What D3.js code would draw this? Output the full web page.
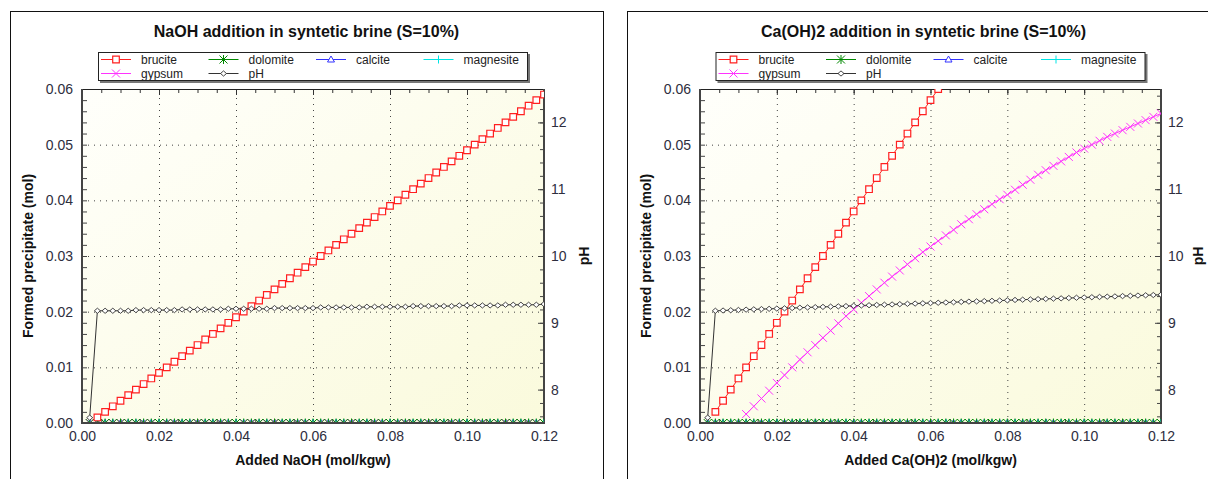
<!DOCTYPE html>
<html><head><meta charset="utf-8">
<script src="https://cdn.jsdelivr.net/npm/d3@7"></script>
<style>
body{margin:0;background:#fff;}
svg{display:block;font-family:"Liberation Sans",Arial,sans-serif;}
</style>
</head><body>
<svg id="c" width="1208" height="479"></svg>
<script>
// ---------------- data ----------------
const xAdded = [
 0.002,0.004,0.006,0.008,0.010,0.012,0.014,0.016,0.018,0.020,
 0.022,0.024,0.026,0.028,0.030,0.032,0.034,0.036,0.038,0.040,
 0.042,0.044,0.046,0.048,0.050,0.052,0.054,0.056,0.058,0.060,
 0.062,0.064,0.066,0.068,0.070,0.072,0.074,0.076,0.078,0.080,
 0.082,0.084,0.086,0.088,0.090,0.092,0.094,0.096,0.098,0.100,
 0.102,0.104,0.106,0.108,0.110,0.112,0.114,0.116,0.118,0.120];

const naohBrucite = [
 null,0.001,0.002,0.003,0.004,0.005,0.006,0.007,0.008,0.009,
 0.010,0.011,0.012,0.013,0.014,0.015,0.016,0.017,0.018,0.019,
 0.020,0.021,0.022,0.023,0.024,0.025,0.026,0.027,0.028,0.029,
 0.030,0.031,0.032,0.033,0.034,0.035,0.036,0.037,0.038,0.039,
 0.040,0.041,0.042,0.043,0.044,0.045,0.046,0.047,0.048,0.049,
 0.050,0.051,0.052,0.053,0.054,0.055,0.056,0.057,0.058,0.059];

const naohGypsum = [
 0,0,0,0,0,0,0,0,0,0, 0,0,0,0,0,0,0,0,0,0, 0,0,0,0,0,0,0,0,0,0,
 0,0,0,0,0,0,0,0,0,0, 0,0,0,0,0,0,0,0,0,0, 0,0,0,0,0,0,0,0,0,0];

const naohPH = [
 7.58,9.18,9.18,9.18,9.18,9.18,9.19,9.19,9.19,9.19,
 9.19,9.19,9.20,9.20,9.20,9.20,9.20,9.20,9.21,9.21,
 9.21,9.21,9.21,9.21,9.22,9.22,9.22,9.22,9.22,9.22,
 9.23,9.23,9.23,9.23,9.23,9.23,9.24,9.24,9.24,9.24,
 9.24,9.24,9.25,9.25,9.25,9.25,9.25,9.25,9.26,9.26,
 9.26,9.26,9.26,9.26,9.27,9.27,9.27,9.27,9.27,9.28];

const caBrucite = [
 null,0.002,0.004,0.006,0.008,0.010,0.012,0.014,0.016,0.018,
 0.020,0.022,0.024,0.026,0.028,0.030,0.032,0.034,0.036,0.038,
 0.040,0.042,0.044,0.046,0.048,0.050,0.052,0.054,0.056,0.058,
 0.060,0.062,null,null,null,null,null,null,null,null,
 null,null,null,null,null,null,null,null,null,null,
 null,null,null,null,null,null,null,null,null,null];

const caGypsum = [
 null,null,null,null,null,0.0016,0.0030,0.0044,0.0058,0.0072,
 0.0086,0.0100,0.0114,0.0127,0.0140,0.0153,0.0166,0.0179,0.0192,0.0204,
 0.0216,0.0228,0.0240,0.0252,0.0263,0.0274,0.0285,0.0296,0.0307,0.0317,
 0.0327,0.0337,0.0347,0.0357,0.0366,0.0375,0.0384,0.0393,0.0402,0.0410,
 0.0419,0.0428,0.0437,0.0446,0.0454,0.0462,0.0470,0.0478,0.0486,0.0493,
 0.0500,0.0507,0.0514,0.0520,0.0526,0.0532,0.0538,0.0544,0.0550,0.0556];

const caPH = [
 7.58,9.180,9.184,9.188,9.192,9.197,9.201,9.205,9.209,9.213,
 9.217,9.221,9.226,9.230,9.234,9.238,9.242,9.246,9.250,9.255,
 9.259,9.263,9.267,9.271,9.275,9.279,9.284,9.288,9.292,9.296,
 9.300,9.304,9.308,9.313,9.317,9.321,9.325,9.329,9.333,9.337,
 9.342,9.346,9.350,9.354,9.358,9.362,9.366,9.371,9.375,9.379,
 9.383,9.387,9.391,9.395,9.400,9.404,9.408,9.412,9.416,9.420];

const dolomiteMol = [
 0,0,0,0,0,0,0,0,0,0, 0,0,0,0,0,0,0,0,0,0, 0,0,0,0,0,0,0,0,0,0,
 0,0,0,0,0,0,0,0,0,0, 0,0,0,0,0,0,0,0,0,0, 0,0,0,0,0,0,0,0,0,0];
const calciteMol = [
 0,0,0,0,0,0,0,0,0,0, 0,0,0,0,0,0,0,0,0,0, 0,0,0,0,0,0,0,0,0,0,
 0,0,0,0,0,0,0,0,0,0, 0,0,0,0,0,0,0,0,0,0, 0,0,0,0,0,0,0,0,0,0];
const magnesiteMol = [
 0,0,0,0,0,0,0,0,0,0, 0,0,0,0,0,0,0,0,0,0, 0,0,0,0,0,0,0,0,0,0,
 0,0,0,0,0,0,0,0,0,0, 0,0,0,0,0,0,0,0,0,0, 0,0,0,0,0,0,0,0,0,0];

const xTickValues = [0,0.02,0.04,0.06,0.08,0.10,0.12];
const yTickValues = [0,0.01,0.02,0.03,0.04,0.05,0.06];
const phTickValues = [8,9,10,11,12];
const legendNames = ["brucite","dolomite","calcite","magnesite","gypsum","pH"];

// ---------------- styles ----------------
const seriesStyle = {
  brucite:  {color:"#ff2020", marker:"M-3.3,-3.3h6.6v6.6h-6.6z", fill:"#fff", sw:1.2},
  gypsum:   {color:"#ff33ff", marker:"M-4,-4L4,4M-4,4L4,-4", fill:"none", sw:1},
  dolomite: {color:"#008800", marker:"M-4,-4L4,4M-4,4L4,-4M0,-4.5V4.5", fill:"none", sw:1},
  calcite:  {color:"#3333ff", marker:"M0,-3.5L3.5,2.5H-3.5Z", fill:"#fff", sw:1},
  magnesite:{color:"#00e5e5", marker:"M-4,0H4M0,-4V4", fill:"none", sw:1},
  pH:       {color:"#333333", marker:"M0,-2.6L3,0L0,2.6L-3,0Z", fill:"#fff", sw:0.9}
};

const charts = [
  {title:"NaOH addition in syntetic brine (S=10%)", xTitle:"Added NaOH (mol/kgw)",
   frameX:10, x0:82, x1:544, phTitleOff:45, brucite:naohBrucite, gypsum:naohGypsum, pH:naohPH},
  {title:"Ca(OH)2 addition in syntetic brine (S=10%)", xTitle:"Added Ca(OH)2 (mol/kgw)",
   frameX:627, x0:700, x1:1161, phTitleOff:42, brucite:caBrucite, gypsum:caGypsum, pH:caPH}
];

const svg = d3.select("#c");
const defs = svg.append("defs");
const grad = defs.append("linearGradient").attr("id","bg").attr("x1",0).attr("y1",0).attr("x2",1).attr("y2",1);
grad.append("stop").attr("offset","0%").attr("stop-color","#fffffb");
grad.append("stop").attr("offset","100%").attr("stop-color","#fafadc");

const Y0 = 89, Y1 = 423;
const labelColor = "#2e2e3e";

charts.forEach((c, ci) => {
  const g = svg.append("g");
  g.append("rect").attr("x", c.frameX+0.5).attr("y", 11.5).attr("width", 593).attr("height", 480)
    .attr("fill","none").attr("stroke","#111").attr("stroke-width",1);

  const x = d3.scaleLinear().domain([0,0.12]).range([c.x0, c.x1]);
  const y = d3.scaleLinear().domain([0,0.06]).range([Y1, Y0]);
  const yp = d3.scaleLinear().domain([7.5,12.5]).range([Y1, Y0]);
  const pw = c.x1 - c.x0, ph = Y1 - Y0;

  g.append("rect").attr("x", c.x0).attr("y", Y0).attr("width", pw).attr("height", ph).attr("fill","url(#bg)");

  const gridStyle = s => s.selectAll("line").attr("stroke","#444").attr("stroke-dasharray","1,5");
  g.append("g").attr("transform",`translate(${c.x0},0)`)
    .call(d3.axisLeft(y).tickValues([0.01,0.02,0.03,0.04,0.05]).tickSize(-pw).tickFormat(""))
    .call(s => s.select(".domain").remove()).call(gridStyle);
  g.append("g").attr("transform",`translate(0,${Y1})`)
    .call(d3.axisBottom(x).tickValues([0.02,0.04,0.06,0.08,0.10]).tickSize(-ph).tickFormat(""))
    .call(s => s.select(".domain").remove()).call(gridStyle);

  const minorX = d3.range(0, 0.1201, 0.005);
  const minorY = d3.range(0, 0.0601, 0.002);
  const minorP = d3.range(7.6, 12.41, 0.2);

  g.append("g").attr("transform",`translate(${c.x0},0)`)
    .call(d3.axisRight(y).tickValues(minorY).tickSize(5).tickFormat(""))
    .call(s => { s.select(".domain").remove(); s.selectAll("line").attr("stroke","#444"); });
  g.append("g").attr("transform",`translate(0,${Y0})`)
    .call(d3.axisBottom(x).tickValues(minorX).tickSize(4).tickFormat(""))
    .call(s => { s.select(".domain").remove(); s.selectAll("line").attr("stroke","#333"); });
  g.append("g").attr("transform",`translate(0,${Y0})`)
    .call(d3.axisBottom(x).tickValues(xTickValues).tickSize(6).tickFormat(""))
    .call(s => { s.select(".domain").remove(); s.selectAll("line").attr("stroke","#333"); });
  g.append("g").attr("transform",`translate(0,${Y1})`)
    .call(d3.axisTop(x).tickValues(minorX).tickSize(4).tickFormat(""))
    .call(s => { s.select(".domain").remove(); s.selectAll("line").attr("stroke","#444"); });
  g.append("g").attr("transform",`translate(${c.x1},0)`)
    .call(d3.axisLeft(yp).tickValues(minorP).tickSize(4).tickFormat(""))
    .call(s => { s.select(".domain").remove(); s.selectAll("line").attr("stroke","#444"); });
  g.append("g").attr("transform",`translate(${c.x1},0)`)
    .call(d3.axisLeft(yp).tickValues(phTickValues).tickSize(6).tickFormat(""))
    .call(s => { s.select(".domain").remove(); s.selectAll("line").attr("stroke","#444"); });

  g.append("g").attr("transform",`translate(${c.x0},0)`)
    .call(d3.axisLeft(y).tickValues(yTickValues).tickSize(0).tickPadding(9).tickFormat(d3.format(".2f")))
    .call(s => { s.select(".domain").remove(); s.selectAll("text").attr("font-size",14).attr("fill",labelColor).attr("font-family",null); });
  g.append("g").attr("transform",`translate(0,${Y1})`)
    .call(d3.axisBottom(x).tickValues(xTickValues).tickSize(0).tickPadding(8).tickFormat(d3.format(".2f")))
    .call(s => { s.select(".domain").remove(); s.selectAll("text").attr("font-size",14).attr("fill",labelColor).attr("font-family",null); });
  g.append("g").attr("transform",`translate(${c.x1},0)`)
    .call(d3.axisRight(yp).tickValues(phTickValues).tickSize(0).tickPadding(7).tickFormat(d3.format("d")))
    .call(s => { s.select(".domain").remove(); s.selectAll("text").attr("font-size",14).attr("fill",labelColor).attr("font-family",null); });

  g.append("line").attr("x1",c.x0).attr("x2",c.x1).attr("y1",Y0+0.5).attr("y2",Y0+0.5).attr("stroke","#222").attr("stroke-width",1);
  g.append("line").attr("x1",c.x0).attr("x2",c.x0).attr("y1",Y0).attr("y2",Y1+1).attr("stroke","#444").attr("stroke-width",2);
  g.append("line").attr("x1",c.x1).attr("x2",c.x1).attr("y1",Y0).attr("y2",Y1+1).attr("stroke","#444").attr("stroke-width",2);

  const clipId = "clip"+ci;
  defs.append("clipPath").attr("id",clipId).append("rect").attr("x",c.x0).attr("y",Y0).attr("width",pw).attr("height",ph);
  const plot = g.append("g").attr("clip-path",`url(#${clipId})`);

  function drawSeries(name, values, scale) {
    const st = seriesStyle[name];
    const pts = xAdded.map((xv,i)=>[xv, values[i]]).filter(p => p[1] !== null && p[1] !== undefined);
    const line = d3.line().x(p=>x(p[0])).y(p=>scale(p[1]));
    plot.append("path").attr("d", line(pts)).attr("fill","none").attr("stroke",st.color).attr("stroke-width",1);
    plot.append("g").selectAll("path").data(pts).join("path")
      .attr("transform", p=>`translate(${x(p[0])},${scale(p[1])})`)
      .attr("d", st.marker).attr("fill", st.fill).attr("stroke", st.color).attr("stroke-width", st.sw);
  }
  drawSeries("calcite", calciteMol, y);
  drawSeries("magnesite", magnesiteMol, y);
  drawSeries("gypsum", c.gypsum, y);
  drawSeries("dolomite", dolomiteMol, y);
  drawSeries("brucite", c.brucite, y);
  drawSeries("pH", c.pH, yp);

  g.append("line").attr("x1",c.x0-1).attr("x2",c.x1+1).attr("y1",Y1).attr("y2",Y1).attr("stroke","#444").attr("stroke-width",2);

  g.append("text").attr("x", c.frameX+296.5).attr("y", 37).attr("text-anchor","middle")
    .attr("font-size",16).attr("font-weight","bold").attr("fill","#111").text(c.title);
  g.append("text").attr("x",(c.x0+c.x1)/2).attr("y",465).attr("text-anchor","middle")
    .attr("font-size",14).attr("font-weight","bold").attr("fill","#111").text(c.xTitle);
  g.append("text").attr("transform",`translate(${c.x0-49},${(Y0+Y1)/2}) rotate(-90)`).attr("text-anchor","middle")
    .attr("font-size",14).attr("font-weight","bold").attr("fill","#111").text("Formed precipitate (mol)");
  g.append("text").attr("transform",`translate(${c.x1+c.phTitleOff},${(Y0+Y1)/2}) rotate(-90)`).attr("text-anchor","middle")
    .attr("font-size",14).attr("font-weight","bold").attr("fill","#111").text("pH");

  const lx = (c.x0+c.x1)/2 - 215, ly = 52;
  g.append("rect").attr("x",lx+2).attr("y",ly+2).attr("width",430).attr("height",29).attr("fill","#777");
  g.append("rect").attr("x",lx+0.5).attr("y",ly+0.5).attr("width",429).attr("height",28).attr("fill","#fff").attr("stroke","#222");
  legendNames.forEach((n, i) => {
    const col = i < 4 ? i : i - 4, row = i < 4 ? 0 : 1;
    const st = seriesStyle[n];
    const ix = lx + 3 + col*107.5, iy = ly + 7.5 + row*14;
    g.append("line").attr("x1",ix).attr("x2",ix+30).attr("y1",iy).attr("y2",iy).attr("stroke",st.color).attr("stroke-width",1);
    g.append("path").attr("transform",`translate(${ix+15},${iy})`).attr("d",st.marker)
      .attr("fill",st.fill).attr("stroke",st.color).attr("stroke-width",st.sw);
    g.append("text").attr("x",ix+40).attr("y",iy+4.3).attr("font-size",12).attr("fill","#222").text(n);
  });
});
</script>
</body></html>
